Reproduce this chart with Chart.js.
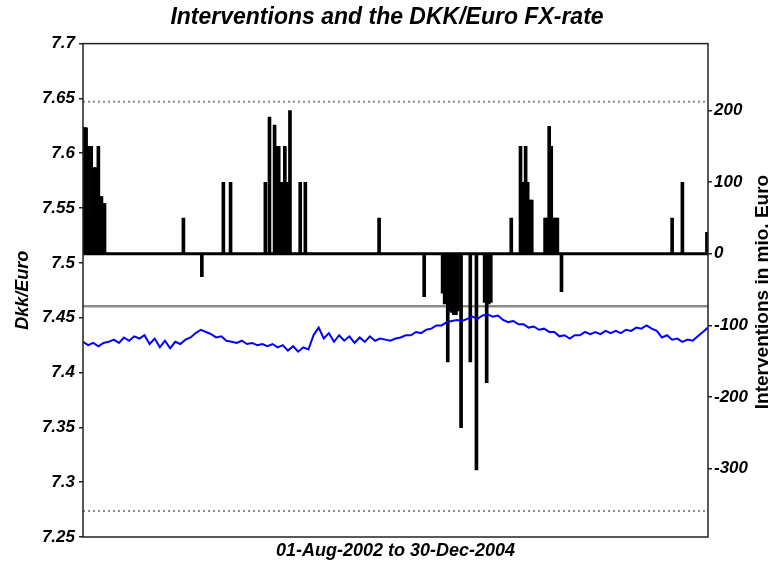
<!DOCTYPE html>
<html>
<head>
<meta charset="utf-8">
<script src="https://cdn.jsdelivr.net/npm/chart.js@4/dist/chart.umd.min.js"></script>
<style>
  html, body { margin: 0; padding: 0; background: #fff; }
  #wrap { width: 774px; height: 571px; }
</style>
</head>
<body>
<div id="wrap"><canvas id="fxChart" width="774" height="571"></canvas></div>
<script>
// DKK/Euro rate, one reading every 5 trading days, 01-Aug-2002 .. 30-Dec-2004
const fxRate = [
  7.428, 7.425, 7.427, 7.424, 7.427, 7.428, 7.430, 7.427, 7.432, 7.429,
  7.433, 7.431, 7.434, 7.426, 7.431, 7.423, 7.429, 7.422, 7.428, 7.426,
  7.430, 7.432, 7.436, 7.439, 7.437, 7.435, 7.432, 7.433, 7.429, 7.428,
  7.427, 7.429, 7.426, 7.427, 7.425, 7.426, 7.424, 7.426, 7.423, 7.425,
  7.420, 7.424, 7.419, 7.423, 7.421, 7.434, 7.441, 7.431, 7.436, 7.428,
  7.434, 7.429, 7.433, 7.427, 7.432, 7.428, 7.433, 7.429, 7.431, 7.430,
  7.429, 7.431, 7.432, 7.434, 7.434, 7.437, 7.436, 7.439, 7.440, 7.443,
  7.443, 7.446, 7.447, 7.448, 7.447, 7.449, 7.451, 7.449, 7.452, 7.453,
  7.451, 7.452, 7.448, 7.446, 7.447, 7.444, 7.444, 7.441, 7.442, 7.439,
  7.440, 7.437, 7.437, 7.433, 7.434, 7.431, 7.434, 7.434, 7.437, 7.435,
  7.437, 7.435, 7.438, 7.436, 7.438, 7.436, 7.439, 7.438, 7.441, 7.440,
  7.443, 7.440, 7.438, 7.432, 7.434, 7.430, 7.431, 7.428, 7.430, 7.429,
  7.433, 7.437, 7.441
];
const fxStep = 5; // trading days between readings

// interventions: trading day index and amount (mio. Euro)
const interventionDay = [
  0, 1, 2, 3, 5, 6, 7, 8, 10, 11, 12, 13, 15, 17, 18, 19, 20, 21, 98, 116,
  137, 144, 178, 182, 187, 189, 191, 193, 195, 197, 199, 200, 202, 212, 217, 289,
  333, 351, 353, 355, 356, 358, 360, 362, 364, 366, 369, 378, 384, 392, 394, 396, 398,
  418, 427, 429, 431, 432, 434, 436, 438, 451, 453, 455, 457, 459, 461, 463, 467,
  575, 585, 609
];
const interventionAmount = [
  176, 176, 176, 176, 150, 50, 50, 150, 120, 120, 120, 120, 150, 80, 80, 70, 70, 70, 50, -32,
  100, 100, 100, 191, 180, 150, 150, 100, 100, 150, 100, 100, 200, 100, 100, 50,
  -60, -55, -70, -65, -151, -80, -82, -85, -85, -80, -243, -151, -302, -68, -180, -70, -68,
  50, 150, 100, 100, 150, 100, 75, 75, 50, 50, 178, 150, 50, 50, 50, -53,
  50, 100, 30
];

const centralParity = 7.46038;
const bandUpper = 7.6469;
const bandLower = 7.2738;
const lastDay = 610;

const leftTicks = [7.25, 7.3, 7.35, 7.4, 7.45, 7.5, 7.55, 7.6, 7.65, 7.7];
const rightTicks = [-300, -200, -100, 0, 100, 200];

const FONT = '"Liberation Sans", Arial, sans-serif';

function flat(y) {
  return [{x: 0, y: y}, {x: lastDay, y: y}];
}

const framePlugin = {
  id: 'frame',
  afterDraw(chart) {
    const {ctx, chartArea: a} = chart;
    ctx.save();
    ctx.strokeStyle = '#222';
    ctx.lineWidth = 1.5;
    ctx.strokeRect(a.left, a.top, a.right - a.left, a.bottom - a.top);
    // right axis title reads bottom-to-top
    ctx.translate(763, 292);
    ctx.rotate(-Math.PI / 2);
    ctx.fillStyle = '#000';
    ctx.font = 'bold 19px ' + FONT;
    ctx.textAlign = 'center';
    ctx.textBaseline = 'middle';
    ctx.fillText('Interventions in mio. Euro', 0, 0);
    ctx.restore();
  }
};

new Chart(document.getElementById('fxChart').getContext('2d'), {
  type: 'bar',
  data: {
    datasets: [
      {
        type: 'line',
        label: 'DKK/Euro',
        data: fxRate.map((v, i) => ({x: i * fxStep, y: v})),
        yAxisID: 'y',
        borderColor: '#0000ff',
        borderWidth: 2,
        pointRadius: 0,
        tension: 0,
        order: 0
      },
      {
        type: 'line',
        label: 'zero',
        data: flat(0),
        yAxisID: 'y1',
        borderColor: '#000',
        borderWidth: 3,
        pointRadius: 0,
        order: 1
      },
      {
        type: 'bar',
        label: 'Interventions',
        data: interventionDay.map((d, i) => ({x: d, y: interventionAmount[i]})),
        yAxisID: 'y1',
        backgroundColor: '#000',
        barThickness: 3,
        order: 2
      },
      {
        type: 'line',
        label: 'central parity',
        data: flat(centralParity),
        yAxisID: 'y',
        borderColor: '#8c8c8c',
        borderWidth: 2.5,
        pointRadius: 0,
        order: 3
      },
      {
        type: 'line',
        label: 'upper band',
        data: flat(bandUpper),
        yAxisID: 'y',
        borderColor: '#8c8c8c',
        borderWidth: 2,
        borderDash: [2, 3],
        pointRadius: 0,
        order: 3
      },
      {
        type: 'line',
        label: 'lower band',
        data: flat(bandLower),
        yAxisID: 'y',
        borderColor: '#8c8c8c',
        borderWidth: 2,
        borderDash: [2, 3],
        pointRadius: 0,
        order: 3
      }
    ]
  },
  options: {
    responsive: false,
    animation: false,
    layout: { padding: 0 },
    plugins: {
      legend: { display: false },
      tooltip: { enabled: false },
      title: {
        display: true,
        text: 'Interventions and the DKK/Euro FX-rate',
        color: '#000',
        font: { family: FONT, size: 23, weight: 'bold', style: 'italic' },
        padding: { top: 4, bottom: 12 }
      }
    },
    scales: {
      x: {
        type: 'linear',
        min: 0,
        max: lastDay,
        offset: false,
        ticks: { display: false },
        grid: { display: false, offset: false },
        border: { display: false },
        title: {
          display: true,
          text: '01-Aug-2002 to 30-Dec-2004',
          color: '#000',
          font: { family: FONT, size: 18, weight: 'bold', style: 'italic' },
          padding: { top: 0, bottom: 9 }
        },
        afterFit(scale) { scale.height = 34; }
      },
      y: {
        position: 'left',
        min: 7.25,
        max: 7.7,
        afterBuildTicks(scale) { scale.ticks = leftTicks.map(v => ({value: v})); },
        ticks: {
          color: '#000',
          padding: 4,
          font: { family: FONT, size: 17, weight: 'bold', style: 'italic' },
          callback: v => String(parseFloat(v.toFixed(2)))
        },
        grid: { drawOnChartArea: false, tickLength: 4, color: '#222', lineWidth: 1.5 },
        border: { display: false },
        title: {
          display: true,
          text: 'Dkk/Euro',
          color: '#000',
          font: { family: FONT, size: 18, weight: 'bold', style: 'italic' },
          padding: { top: 12, bottom: 0 }
        },
        afterFit(scale) { scale.width = 83; }
      },
      y1: {
        position: 'right',
        min: -395.8,
        max: 293.7,
        afterBuildTicks(scale) { scale.ticks = rightTicks.map(v => ({value: v})); },
        ticks: {
          color: '#000',
          padding: 2,
          font: { family: FONT, size: 17, weight: 'bold', style: 'italic' },
          callback: v => String(v)
        },
        grid: { drawOnChartArea: false, tickLength: 4, color: '#222', lineWidth: 1.5 },
        border: { display: false },
        afterFit(scale) { scale.width = 66; }
      }
    }
  },
  plugins: [framePlugin]
});
</script>
</body>
</html>
